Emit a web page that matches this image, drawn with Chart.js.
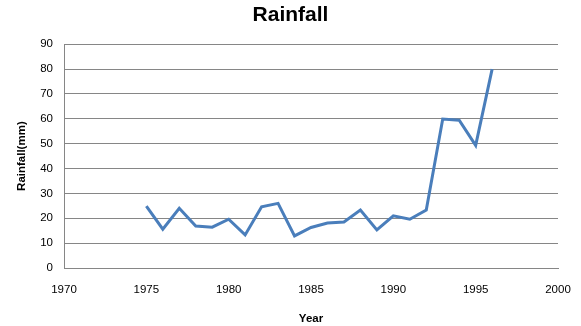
<!DOCTYPE html>
<html>
<head>
<meta charset="utf-8">
<script src="https://cdn.jsdelivr.net/npm/chart.js@4/dist/chart.umd.min.js"></script>
<style>
  html, body { margin: 0; padding: 0; background: #fff; }
  #wrap { width: 581px; height: 326px; }
</style>
</head>
<body>
<div id="wrap"><canvas id="rainChart"></canvas></div>
<script>
const years = [1975, 1976, 1977, 1978, 1979, 1980, 1981, 1982, 1983, 1984, 1985,
               1986, 1987, 1988, 1989, 1990, 1991, 1992, 1993, 1994, 1995, 1996];
const rainfall = [24.9, 15.6, 24, 16.9, 16.4, 19.6, 13.3, 24.6, 26, 12.9, 16.3,
                  18.1, 18.5, 23.3, 15.3, 21, 19.6, 23.3, 59.9, 59.4, 49.3, 80];
const yearTicks = [1970, 1975, 1980, 1985, 1990, 1995, 2000];
const rainTicks = [0, 10, 20, 30, 40, 50, 60, 70, 80, 90];

const font = "'Liberation Sans', Arial, sans-serif";
const grey = '#868686';

new Chart(document.getElementById('rainChart'), {
    type: 'line',
    data: {
        datasets: [{
            label: 'Rainfall',
            data: years.map((y, i) => ({ x: y, y: rainfall[i] })),
            borderColor: '#4a7ebb',
            borderWidth: 3,
            pointRadius: 0,
            tension: 0,
            fill: false
        }]
    },
    options: {
        responsive: true,
        maintainAspectRatio: false,
        animation: false,
        layout: { padding: 0 },
        plugins: {
            legend: { display: false },
            tooltip: { enabled: false },
            title: {
                display: true,
                text: 'Rainfall',
                color: '#000',
                font: { family: font, size: 21, weight: 'bold' },
                padding: { top: 3, bottom: 16 }
            }
        },
        scales: {
            x: {
                type: 'linear',
                min: yearTicks[0],
                max: yearTicks[yearTicks.length - 1],
                afterBuildTicks: s => { s.ticks = yearTicks.map(v => ({ value: v })); },
                afterFit: s => {
                    s.height = 58;
                    s.paddingLeft = 0;
                    s.paddingRight = 23;
                },
                grid: { display: false, drawTicks: false },
                border: { display: true, color: grey, width: 1 },
                ticks: {
                    color: '#000',
                    font: { family: font, size: 11.5 },
                    padding: 15,
                    maxRotation: 0,
                    callback: v => String(v)
                },
                title: {
                    display: true,
                    text: 'Year',
                    color: '#000',
                    font: { family: font, size: 11.5, weight: 'bold' },
                    padding: { top: 7, bottom: 0 }
                }
            },
            y: {
                min: rainTicks[0],
                max: rainTicks[rainTicks.length - 1],
                afterBuildTicks: s => { s.ticks = rainTicks.map(v => ({ value: v })); },
                afterFit: s => { s.width = 64; },
                grid: { color: grey, lineWidth: 1, drawTicks: false },
                border: { display: true, color: grey, width: 1 },
                ticks: {
                    color: '#000',
                    font: { family: font, size: 11.5 },
                    padding: 11
                },
                title: {
                    display: true,
                    text: 'Rainfall(mm)',
                    color: '#000',
                    font: { family: font, size: 11.5, weight: 'bold' },
                    padding: { top: 15, bottom: 0 }
                }
            }
        }
    }
});
</script>
</body>
</html>
